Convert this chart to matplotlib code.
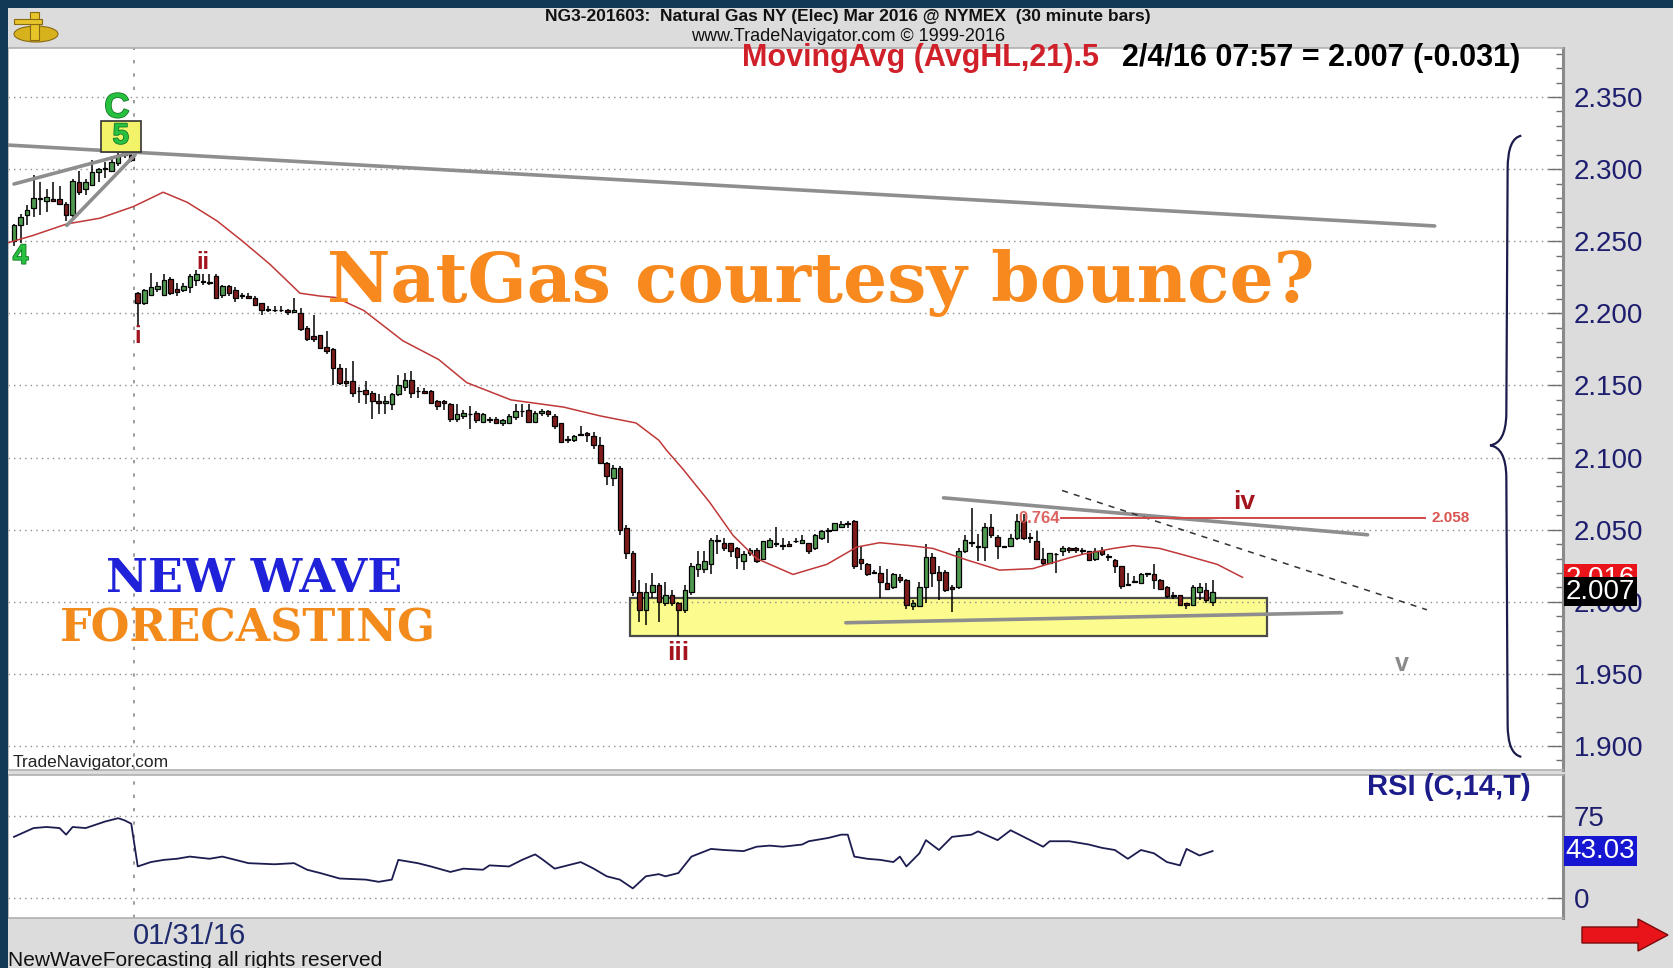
import matplotlib
matplotlib.use('Agg')
import matplotlib.pyplot as plt
import matplotlib.patches as mpatches
import matplotlib.patheffects as pe
from matplotlib.path import Path
from matplotlib.ticker import MultipleLocator
import numpy as np

W, H = 1673, 968

# NG3-201603, 30 minute bars; bar 0 = first bar on screen, bar 19 = first bar after 01/31
bar_open = [
    2.250, 2.261, 2.268, 2.273, 2.279, 2.278, 2.279, 2.279, 2.276, 2.268,
    2.291, 2.286, 2.289, 2.298, 2.300, 2.299, 2.304, 2.310, 2.310,
    2.214, 2.207, 2.213, 2.217, 2.213, 2.224, 2.217, 2.216, 2.218, 2.223,
    2.222, 2.222, 2.226, 2.213, 2.219, 2.216, 2.212, 2.212, 2.211, 2.207,
    2.202, 2.202, 2.202, 2.202, 2.201, 2.200, 2.190, 2.184, 2.185, 2.177,
    2.175, 2.162, 2.153, 2.153, 2.146, 2.147, 2.145, 2.139, 2.138, 2.137,
    2.144, 2.149, 2.154, 2.146, 2.146, 2.146, 2.139, 2.139, 2.137, 2.127,
    2.129, 2.130, 2.131, 2.125, 2.127, 2.127, 2.124, 2.124, 2.128, 2.132,
    2.133, 2.125, 2.131, 2.132, 2.129, 2.124, 2.112, 2.112, 2.116, 2.117,
    2.115, 2.109, 2.096, 2.086, 2.093, 2.051, 2.034,
    2.007, 1.994, 2.007, 2.012, 1.999, 2.005, 1.999, 1.994, 2.007, 2.023,
    2.023, 2.026, 2.043, 2.041, 2.041, 2.037, 2.028, 2.034, 2.036, 2.030,
    2.038, 2.040, 2.039, 2.040, 2.042, 2.041, 2.041, 2.037, 2.044, 2.049,
    2.050, 2.052, 2.055, 2.056, 2.030, 2.026, 2.020, 2.020, 2.013, 2.010,
    2.017, 2.015, 1.997, 1.997, 2.010, 2.031,
    2.021, 2.021, 2.010, 2.010, 2.035, 2.041, 2.038, 2.038, 2.052, 2.045,
    2.039, 2.039, 2.044, 2.056, 2.045, 2.042, 2.030, 2.027, 2.033, 2.035,
    2.037, 2.037, 2.036, 2.035, 2.030, 2.036, 2.031, 2.029, 2.025, 2.012,
    2.014, 2.013, 2.020, 2.019, 2.015, 2.010, 2.005, 2.005, 1.999, 1.998,
    2.007, 2.008, 2.000,
]
bar_high = [
    2.262, 2.269, 2.275, 2.296, 2.291, 2.286, 2.291, 2.288, 2.277, 2.293,
    2.299, 2.293, 2.306, 2.301, 2.305, 2.309, 2.313, 2.314, 2.312,
    2.215, 2.217, 2.228, 2.222, 2.227, 2.225, 2.221, 2.221, 2.227, 2.230,
    2.227, 2.227, 2.227, 2.220, 2.220, 2.218, 2.214, 2.214, 2.212, 2.207,
    2.205, 2.205, 2.205, 2.203, 2.211, 2.204, 2.191, 2.199, 2.185, 2.188,
    2.176, 2.165, 2.162, 2.167, 2.149, 2.153, 2.146, 2.144, 2.143, 2.145,
    2.157, 2.159, 2.160, 2.149, 2.148, 2.147, 2.140, 2.140, 2.138, 2.137,
    2.133, 2.136, 2.132, 2.131, 2.128, 2.128, 2.127, 2.130, 2.137, 2.137,
    2.137, 2.132, 2.134, 2.133, 2.130, 2.124, 2.115, 2.116, 2.122, 2.118,
    2.118, 2.114, 2.097, 2.095, 2.094, 2.053, 2.035,
    2.015, 2.013, 2.020, 2.013, 2.014, 2.008, 2.000, 2.012, 2.027, 2.035,
    2.035, 2.044, 2.046, 2.044, 2.041, 2.038, 2.035, 2.037, 2.037, 2.042,
    2.044, 2.052, 2.044, 2.042, 2.044, 2.046, 2.041, 2.047, 2.050, 2.051,
    2.055, 2.056, 2.056, 2.057, 2.039, 2.027, 2.022, 2.025, 2.023, 2.020,
    2.019, 2.016, 2.001, 2.014, 2.040, 2.034,
    2.025, 2.022, 2.012, 2.037, 2.046, 2.065, 2.047, 2.055, 2.061, 2.046,
    2.039, 2.047, 2.061, 2.061, 2.048, 2.049, 2.037, 2.034, 2.034, 2.039,
    2.038, 2.038, 2.037, 2.035, 2.037, 2.038, 2.033, 2.030, 2.025, 2.020,
    2.018, 2.020, 2.020, 2.026, 2.016, 2.011, 2.007, 2.005, 1.999, 2.012,
    2.013, 2.013, 2.015,
]
bar_low = [
    2.247, 2.249, 2.261, 2.267, 2.268, 2.270, 2.277, 2.275, 2.264, 2.266,
    2.282, 2.282, 2.288, 2.291, 2.294, 2.298, 2.302, 2.308, 2.305,
    2.192, 2.206, 2.213, 2.215, 2.213, 2.213, 2.212, 2.215, 2.214, 2.219,
    2.220, 2.220, 2.210, 2.211, 2.212, 2.208, 2.210, 2.210, 2.205, 2.199,
    2.201, 2.201, 2.201, 2.199, 2.201, 2.188, 2.181, 2.180, 2.175, 2.172,
    2.150, 2.150, 2.149, 2.142, 2.138, 2.137, 2.127, 2.130, 2.130, 2.133,
    2.143, 2.146, 2.141, 2.141, 2.144, 2.137, 2.133, 2.133, 2.125, 2.125,
    2.127, 2.120, 2.124, 2.124, 2.124, 2.123, 2.122, 2.123, 2.126, 2.128,
    2.125, 2.124, 2.129, 2.128, 2.120, 2.110, 2.110, 2.111, 2.115, 2.111,
    2.106, 2.096, 2.081, 2.080, 2.046, 2.030, 2.004,
    1.986, 1.984, 2.003, 1.986, 1.997, 1.997, 1.976, 1.992, 2.005, 2.017,
    2.020, 2.019, 2.033, 2.035, 2.031, 2.023, 2.022, 2.032, 2.027, 2.029,
    2.037, 2.038, 2.036, 2.038, 2.041, 2.041, 2.033, 2.036, 2.043, 2.041,
    2.049, 2.051, 2.051, 2.023, 2.022, 2.018, 2.019, 2.003, 2.008, 2.009,
    2.013, 1.995, 1.994, 1.997, 1.999, 2.010,
    2.001, 2.007, 1.993, 2.009, 2.034, 2.038, 2.028, 2.028, 2.044, 2.030,
    2.037, 2.038, 2.043, 2.043, 2.041, 2.029, 2.025, 2.027, 2.020, 2.032,
    2.034, 2.034, 2.033, 2.028, 2.028, 2.032, 2.028, 2.020, 2.009, 2.011,
    2.013, 2.013, 2.017, 2.009, 2.008, 2.003, 2.002, 1.998, 1.995, 1.997,
    2.001, 1.999, 1.997,
]
bar_close = [
    2.261, 2.267, 2.272, 2.280, 2.280, 2.281, 2.278, 2.276, 2.268, 2.292,
    2.284, 2.291, 2.298, 2.300, 2.300, 2.305, 2.310, 2.311, 2.306,
    2.207, 2.216, 2.218, 2.219, 2.223, 2.214, 2.215, 2.219, 2.226, 2.227,
    2.222, 2.221, 2.211, 2.219, 2.214, 2.211, 2.212, 2.211, 2.206, 2.202,
    2.203, 2.202, 2.202, 2.201, 2.202, 2.189, 2.182, 2.182, 2.176, 2.174,
    2.162, 2.152, 2.152, 2.145, 2.146, 2.144, 2.139, 2.138, 2.139, 2.144,
    2.150, 2.154, 2.145, 2.146, 2.145, 2.138, 2.136, 2.138, 2.127, 2.130,
    2.131, 2.130, 2.126, 2.130, 2.126, 2.124, 2.126, 2.129, 2.132, 2.132,
    2.125, 2.131, 2.132, 2.130, 2.122, 2.111, 2.113, 2.115, 2.116, 2.116,
    2.109, 2.096, 2.087, 2.093, 2.050, 2.034, 2.007,
    1.994, 2.007, 2.012, 2.000, 2.005, 1.999, 1.994, 2.008, 2.025, 2.026,
    2.028, 2.043, 2.042, 2.037, 2.035, 2.031, 2.033, 2.036, 2.028, 2.042,
    2.043, 2.040, 2.039, 2.039, 2.042, 2.043, 2.035, 2.046, 2.049, 2.049,
    2.055, 2.054, 2.054, 2.025, 2.027, 2.019, 2.020, 2.014, 2.009, 2.019,
    2.015, 1.998, 1.999, 2.010, 2.031, 2.020,
    2.015, 2.008, 2.009, 2.035, 2.043, 2.041, 2.038, 2.052, 2.046, 2.039,
    2.038, 2.044, 2.056, 2.044, 2.044, 2.030, 2.027, 2.034, 2.033, 2.037,
    2.036, 2.036, 2.035, 2.029, 2.035, 2.033, 2.031, 2.025, 2.011, 2.012,
    2.014, 2.019, 2.019, 2.015, 2.009, 2.004, 2.004, 1.998, 1.998, 2.010,
    2.010, 2.001, 2.007,
]

# MovingAvg (AvgHL,21).5
ma_bar = [-0.9, 2.9, 8.1, 13.2, 18.3, 22.9, 26.6, 31.2, 35.1, 39.3, 43.9, 47.0,
          49.4, 53.7, 59.7, 65.2, 69.5, 76.3, 84.4, 89.9, 95.5, 99.0, 100.2,
          102.7, 106.8, 110.4, 114.0, 119.6, 124.8, 129.4, 132.9, 137.5, 141.1,
          146.3, 151.3, 156.4, 161.6, 164.1, 168.7, 171.8, 175.9, 180.0, 184.7,
          188.6]
ma_val = [2.249, 2.254, 2.262, 2.266, 2.274, 2.284, 2.277, 2.264, 2.250, 2.234,
          2.214, 2.212, 2.211, 2.202, 2.181, 2.168, 2.152, 2.140, 2.135, 2.129,
          2.124, 2.112, 2.105, 2.092, 2.069, 2.046, 2.030, 2.019, 2.026, 2.038,
          2.041, 2.039, 2.037, 2.029, 2.022, 2.023, 2.030, 2.033, 2.037, 2.039,
          2.037, 2.032, 2.026, 2.017]

# RSI (C,14,T)
rsi_bar = [0, 3, 5, 7, 8, 9, 11, 13, 14, 16, 17, 18, 19, 21, 23, 25, 27, 30,
           32, 34, 36, 40, 43, 45, 47, 50, 54, 56, 58, 59, 62, 64, 67, 69, 72,
           73, 76, 78, 80, 81, 83, 85, 87, 89, 91, 93, 95, 97, 99, 100, 102,
           104, 107, 109, 112, 114, 116, 118, 121, 122, 125, 127, 128, 129,
           131, 133, 135, 136, 137, 139, 140, 142, 144, 147, 148, 151, 153,
           156, 158, 159, 162, 165, 167, 169, 171, 173, 175, 177, 179, 180,
           182, 184]
rsi_val = [56, 64, 65, 64, 58, 65, 64, 68, 70, 73, 71, 68, 29, 33, 35, 36, 38,
           36, 38, 35, 32, 31, 32, 26, 23, 18, 17, 15, 17, 35, 32, 29, 24, 27,
           26, 30, 29, 35, 40, 36, 27, 30, 33, 27, 20, 17, 9, 20, 22, 20, 23,
           38, 45, 44, 43, 47, 48, 47, 49, 52, 55, 58, 58, 38, 36, 35, 33, 38,
           29, 41, 53, 44, 56, 58, 61, 53, 62, 53, 47, 52, 52, 49, 46, 44, 36,
           44, 41, 33, 30, 45, 39, 43.03]

price_ticks = [1.90, 1.95, 2.00, 2.05, 2.10, 2.15, 2.20, 2.25, 2.30, 2.35]
rsi_ticks = [0, 75]
last_price = 2.007
last_ma = 2.016
last_rsi = 43.03
fib_level = 2.058
break_bar = 18.4   # 01/31/16 session break

plt.rcParams['font.family'] = ['Liberation Sans', 'DejaVu Sans']


def fx(x):
    return x / W


def fy(y):
    return 1 - y / H


fig = plt.figure(figsize=(W / 100, H / 100), dpi=100, facecolor='#dcdcdc')

# dark frame on top and left
fig.patches.append(mpatches.Rectangle((0, fy(8)), 1, 8 / H, transform=fig.transFigure,
                                      fc='#103a56', ec='none', zorder=0))
fig.patches.append(mpatches.Rectangle((0, 0), fx(8), 1, transform=fig.transFigure,
                                      fc='#103a56', ec='none', zorder=0))
# small gold logo
fig.patches.append(mpatches.Ellipse((fx(36), fy(34)), 44 / W, 16 / H, transform=fig.transFigure,
                                    fc='#d8b21c', ec='#8a6a10', lw=0.8))
fig.patches.append(mpatches.Rectangle((fx(30), fy(40)), 9 / W, 28 / H, transform=fig.transFigure,
                                      fc='#e6c42a', ec='#8a6a10', lw=0.8))
fig.patches.append(mpatches.Rectangle((fx(14), fy(24)), 28 / W, 5 / H, transform=fig.transFigure,
                                      fc='#e6c42a', ec='#8a6a10', lw=0.8))

ax = fig.add_axes([fx(8), fy(770), (1563 - 8) / W, (770 - 48) / H])
rx = fig.add_axes([fx(8), fy(918), (1563 - 8) / W, (918 - 775) / H], sharex=ax)

o = np.array(bar_open)
h = np.array(bar_high)
l = np.array(bar_low)
c = np.array(bar_close)
idx = np.arange(len(o))
up = c >= o
body_col = np.where(up, '#4f9a4f', '#7e1c1c')

ax.vlines(idx, l, h, color='black', lw=1.1, zorder=3)
ax.bar(idx, np.maximum(np.abs(c - o), 0.0005), bottom=np.minimum(o, c), width=0.7,
       color=body_col, edgecolor='black', linewidth=0.9, zorder=4)

ax.plot(ma_bar, ma_val, color='#c03838', lw=1.1, zorder=5)

# support box and trendlines
ax.add_patch(mpatches.Rectangle((94.5, 1.9765), 192.4 - 94.5, 2.0025 - 1.9765,
                                fc='#fbfb8e', ec='#4a4a4a', lw=1.6, zorder=1))
gline = dict(color='#8e8e8e', lw=2.6, zorder=6, solid_capstyle='round')
ax.plot([-0.92, 218.1], [2.3167, 2.2606], **gline)
ax.plot([0.0, 18.1], [2.2897, 2.3115], **gline)
ax.plot([8.1, 18.6], [2.2610, 2.3100], **gline)
ax.plot([142.7, 207.8], [2.0721, 2.0465], **gline)
ax.plot([127.7, 203.8], [1.9855, 1.9925], **gline)
ax.plot([160.9, 216.9], [2.0772, 1.9945], color='#333333', lw=1.1,
        linestyle=(0, (4, 4)), zorder=6)
ax.plot([160.8, 216.6], [fib_level, fib_level], color='#d04848', lw=1.4, zorder=6)
ax.text(160.5, fib_level, '0.764', color='#d9534f', fontsize=12, weight='bold',
        ha='right', va='center', zorder=7, alpha=0.9)
ax.text(217.6, fib_level, f'{fib_level:.3f}', color='#d9534f', fontsize=11, weight='bold',
        ha='left', va='center', zorder=7)

for a in (ax, rx):
    a.axvline(break_bar, color='#8a8a8a', lw=1.2, linestyle=(0, (2, 6)), zorder=1.5)

# curly brace on the right
P = Path
brace = Path([(231.4, 2.3232), (229.3, 2.3215), (229.3, 2.300), (229.1, 2.130),
              (229.0, 2.110), (226.6, 2.1085), (229.0, 2.107), (229.1, 2.087),
              (229.3, 1.915), (229.3, 1.8945), (231.4, 1.8925)],
             [P.MOVETO, P.CURVE3, P.CURVE3, P.LINETO, P.CURVE3, P.CURVE3,
              P.CURVE3, P.CURVE3, P.LINETO, P.CURVE3, P.CURVE3])
ax.add_patch(mpatches.PathPatch(brace, fc='none', ec='#1c1c4c', lw=1.6, zorder=6))

# wave labels
green = dict(color='#27c03f', weight='bold', ha='center', zorder=8,
             path_effects=[pe.withStroke(linewidth=1.2, foreground='#167a28')])
ax.add_patch(mpatches.Rectangle((13.4, 2.3121), 6.1, 0.0215, fc='#f3f36a',
                                ec='#333333', lw=1.2, zorder=7))
ax.text(16.4, 2.3232, '5', fontsize=21, va='center', **green)
ax.text(15.8, 2.3425, 'C', fontsize=25, va='center', **green)
ax.text(1.0, 2.2393, '4', fontsize=20, va='center', **green)
red = dict(color='#a3141e', weight='bold', ha='center', va='center', zorder=8)
ax.text(19, 2.184, 'i', fontsize=17, **red)
ax.text(29, 2.235, 'ii', fontsize=17, **red)
ax.text(102, 1.9647, 'iii', fontsize=19, **red)
ax.text(188.8, 2.0690, 'iv', fontsize=19, **red)
ax.text(213, 1.9570, 'v', fontsize=18, color='#8a8a8a', weight='bold',
        ha='center', va='center', zorder=8)

ax.set_xlim(-0.92, 237.8)
ax.set_ylim(1.8834, 2.384)
ax.set_facecolor('white')
ax.yaxis.tick_right()
ax.set_yticks(price_ticks)
ax.set_yticklabels([f'{v:.3f}' for v in price_ticks])
ax.yaxis.set_minor_locator(MultipleLocator(0.01))
ax.tick_params(axis='y', which='major', direction='in', length=11, width=1,
               color='#707070', labelsize=20, labelcolor='#1e1e6e', pad=8)
ax.tick_params(axis='y', which='minor', direction='in', length=5, width=1, color='#707070')
ax.tick_params(axis='x', which='both', bottom=False, labelbottom=False)
ax.grid(axis='y', which='major', linestyle=(0, (1, 3)), color='#8c8c8c', lw=1.0, zorder=0)

rx.plot(rsi_bar, rsi_val, color='#1c1c50', lw=1.3, zorder=4)
rx.set_ylim(-18, 112.4)
rx.set_facecolor('white')
rx.yaxis.tick_right()
rx.set_yticks(rsi_ticks)
rx.tick_params(axis='y', direction='in', length=11, width=1, color='#707070',
               labelsize=20, labelcolor='#1e1e6e', pad=8)
rx.tick_params(axis='x', which='both', bottom=False, labelbottom=False)
rx.grid(axis='y', linestyle=(0, (1, 3)), color='#8c8c8c', lw=1.0, zorder=0)

for a in (ax, rx):
    for s in a.spines.values():
        s.set_color('#b0b0b0')
        s.set_linewidth(1.2)
    a.spines['right'].set_color('#8a8a8a')
    a.spines['right'].set_linewidth(2.2)

# last-value boxes on the price scales
box = dict(ha='left', va='center', color='white', fontsize=20, zorder=20,
           xycoords=('axes fraction', 'data'), textcoords='offset points',
           xytext=(2, 0), annotation_clip=False)
ax.annotate(f'{last_ma:.3f}', xy=(1, last_ma),
            bbox=dict(boxstyle='square,pad=0.06', fc='#e8141a', ec='none'), **box)
ax.annotate(f'{last_price:.3f}', xy=(1, last_price),
            bbox=dict(boxstyle='square,pad=0.06', fc='black', ec='none'), **box)
rx.annotate(f'{last_rsi:.2f}', xy=(1, last_rsi),
            bbox=dict(boxstyle='square,pad=0.06', fc='#1616d2', ec='none'), **box)

# headers and captions
fig.text(fx(848), fy(21), 'NG3-201603:  Natural Gas NY (Elec) Mar 2016 @ NYMEX  (30 minute bars)',
         ha='center', va='baseline', fontsize=12.5, weight='bold', color='#111111',
         family=['Liberation Sans Narrow', 'Liberation Sans'])
fig.text(fx(848), fy(41), 'www.TradeNavigator.com \u00a9 1999-2016', ha='center', va='baseline',
         fontsize=13, color='#111111', family=['Liberation Sans Narrow', 'Liberation Sans'])
fig.text(fx(742), fy(66), 'MovingAvg (AvgHL,21).5', ha='left', va='baseline',
         fontsize=22, weight='bold', color='#d0202a')
fig.text(fx(1122), fy(66), '2/4/16 07:57 = 2.007 (-0.031)', ha='left', va='baseline',
         fontsize=22, weight='bold', color='black')
fig.text(fx(821), fy(302), 'NatGas courtesy bounce?', ha='center', va='baseline',
         fontsize=50, weight='bold', family='DejaVu Serif', color='#f7891e')
fig.text(fx(254), fy(592), 'NEW WAVE', ha='center', va='baseline',
         fontsize=33, weight='bold', family='DejaVu Serif', color='#1f22d8')
fig.text(fx(248), fy(642), 'FORECASTING', ha='center', va='baseline',
         fontsize=32, weight='bold', family='DejaVu Serif', color='#f28a1c')
fig.text(fx(13), fy(767), 'TradeNavigator.com', ha='left', va='baseline',
         fontsize=12.5, color='#222222')
fig.text(fx(1531), fy(795), 'RSI (C,14,T)', ha='right', va='baseline',
         fontsize=21, weight='bold', color='#1c1c8a')
fig.text(fx(133), fy(944), '01/31/16', ha='left', va='baseline',
         fontsize=21, color='#1e2a6e')
fig.text(fx(8), fy(966), 'NewWaveForecasting all rights reserved', ha='left', va='baseline',
         fontsize=15, color='#111111')

# red arrow, bottom right
fig.patches.append(mpatches.FancyArrow(fx(1582), fy(935), (1668 - 1582) / W, 0,
                                       width=16 / H, head_width=32 / H, head_length=30 / W,
                                       length_includes_head=True, transform=fig.transFigure,
                                       fc='#e8141a', ec='#7a0a0a', lw=1))

fig.savefig('out.png', dpi=100, facecolor=fig.get_facecolor())
